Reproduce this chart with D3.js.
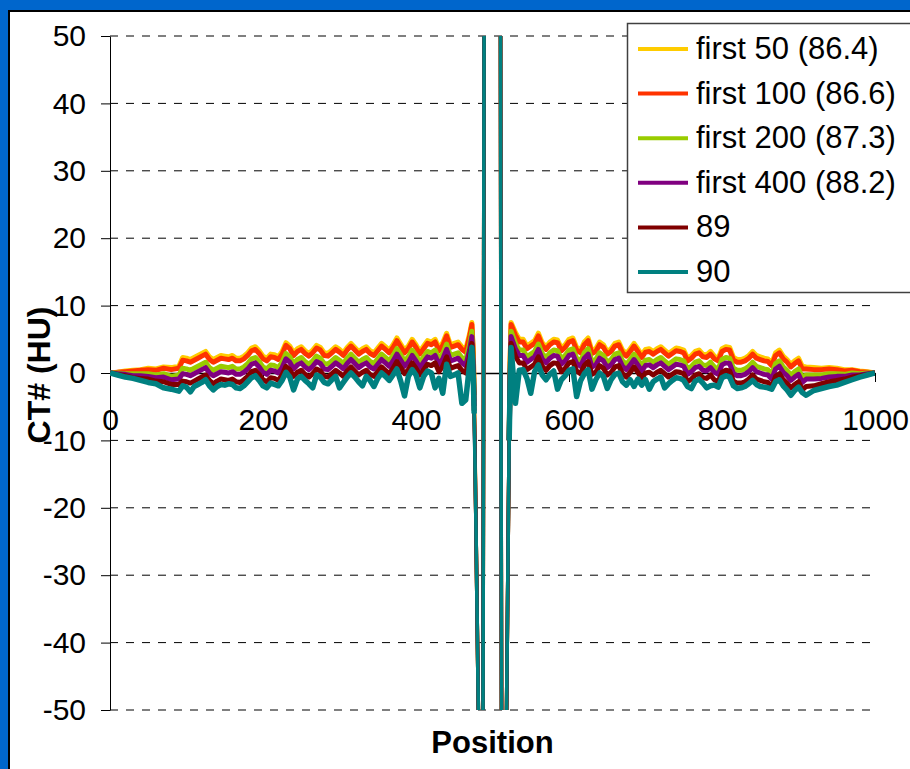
<!DOCTYPE html>
<html>
<head>
<meta charset="utf-8">
<script src="https://cdn.jsdelivr.net/npm/d3@7"></script>
<style>
  html, body { margin: 0; padding: 0; background: #0066cc; }
  svg { display: block; }
</style>
</head>
<body>
<svg id="chart" width="910" height="769"></svg>
<script>
// Profile positions (pixels along the line profile)
const position = [
  0,10,20,30,40,50,60,70,80,90,
  95,100,105,110,115,120,125,130,135,140,145,150,155,160,165,170,175,180,185,190,
  195,200,205,210,215,220,225,230,235,240,245,250,255,260,265,270,275,280,285,290,
  295,300,305,310,315,320,325,330,335,340,345,350,355,360,365,370,375,380,385,390,
  395,400,405,410,415,420,425,430,435,440,445,450,455,460,465,470,
  473,475,476,477,478.3,480,481.5,482.5,483.5,485,486.5,487.6,488.3,489,490,495,
  500,505,509.5,510.5,511,511.8,513,514.5,516,517.2,518.4,519.5,520.7,521.8,523,524.3,
  530,535,540,545,550,555,560,565,570,575,580,585,590,595,600,605,610,615,620,625,
  630,635,640,645,650,655,660,665,670,675,680,685,690,695,700,705,710,715,720,725,
  730,735,740,745,750,755,760,765,770,775,780,785,790,795,800,805,810,815,820,825,
  830,835,840,845,850,855,860,865,870,875,880,885,890,895,900,905,
  910,920,930,940,950,960,970,980,990,1000
];

// CT number (HU) along the profile for each averaging setting
const first50 = [
  0,0.1,0.3,0.4,0.5,0.7,0.6,0.9,0.8,1.0,
  2.3,2.2,2.0,2.3,2.6,2.9,3.2,2.4,2.0,2.3,2.6,2.5,2.4,2.6,2.2,2.2,2.5,3.0,3.7,3.9,
  3.3,2.5,2.2,2.8,2.7,2.4,3.2,4.5,4.0,3.0,3.6,3.9,3.3,2.9,3.4,4.1,3.8,3.0,2.9,3.4,
  3.9,3.5,3.0,3.8,4.4,3.8,3.2,3.6,3.9,3.3,3.0,3.7,4.4,3.9,3.4,4.2,5.2,4.3,3.4,4.0,
  5.0,4.2,3.2,4.0,4.8,4.6,5.0,3.7,4.5,5.9,4.2,4.4,4.6,3.9,3.5,5.8,
  7.5,3.0,-3.0,-10,-22,-37,-50,-62,-75,-90,-72,-50,0,50,90,130,
  140,130,90,50,0,-50,-70,-90,-75,-62,-50,-37,-22,-10,2.0,7.5,
  6.0,5.0,5.0,4.0,4.4,4.8,5.9,4.5,3.9,4.6,5.0,4.9,3.7,4.2,5.0,5.2,3.8,3.4,4.6,5.2,
  3.3,3.6,4.6,4.2,3.2,3.6,4.4,4.6,3.4,2.9,3.6,4.4,3.6,2.7,3.5,3.6,3.2,3.6,3.9,3.4,
  2.9,3.3,3.7,3.6,3.4,2.2,2.6,3.2,3.4,2.8,2.7,3.2,2.5,2.2,3.6,3.9,3.8,2.3,2.0,2.0,
  2.2,2.6,3.2,2.6,2.4,2.2,2.1,1.5,3.0,3.4,2.5,2.0,1.3,1.8,2.2,1.0,
  0.9,0.8,0.7,0.8,0.7,0.5,0.5,0.3,0.2,0
];

const first100 = [
  0,0.1,0.2,0.3,0.4,0.5,0.4,0.7,0.5,0.7,
  1.9,1.8,1.6,1.9,2.2,2.5,2.8,2.0,1.6,1.9,2.2,2.1,2.0,2.2,1.8,1.8,2.1,2.6,3.3,3.5,
  2.9,2.1,1.8,2.4,2.3,2.0,2.8,4.1,3.6,2.6,3.2,3.5,2.9,2.5,3.0,3.7,3.4,2.6,2.5,3.0,
  3.5,3.1,2.6,3.4,4.0,3.4,2.8,3.2,3.5,2.9,2.6,3.3,4.0,3.5,3.0,3.8,4.8,3.9,3.0,3.6,
  4.6,3.8,2.8,3.6,4.4,4.2,4.6,3.3,4.1,5.5,3.8,4.0,4.2,3.5,3.1,5.4,
  7.2,2.6,-3.3,-10.3,-22,-37,-50,-62,-75,-90,-72,-50,0,50,90,130,
  140,130,90,50,0,-50,-70,-90,-75,-62,-50,-37,-22,-10,1.6,7.2,
  5.6,4.6,4.6,3.6,4.0,4.4,5.5,4.1,3.5,4.2,4.6,4.5,3.3,3.8,4.6,4.8,3.4,3.0,4.2,4.8,
  2.9,3.2,4.2,3.8,2.8,3.2,4.0,4.2,3.0,2.5,3.2,4.0,3.2,2.3,3.1,3.2,2.8,3.2,3.5,3.0,
  2.5,2.9,3.3,3.2,3.0,1.8,2.2,2.8,3.0,2.4,2.3,2.8,2.1,1.8,3.2,3.5,3.4,1.9,1.6,1.6,
  1.8,2.2,2.8,2.2,2.0,1.8,1.7,1.1,2.6,3.0,2.1,1.6,0.9,1.4,1.8,0.6,
  0.6,0.5,0.5,0.6,0.5,0.3,0.4,0.2,0.1,0
];

const first200 = [
  0,0.0,-0.1,-0.1,-0.1,-0.1,-0.3,-0.1,-0.5,-0.3,
  0.7,0.6,0.4,0.7,1.0,1.3,1.6,0.8,0.4,0.7,1.0,0.9,0.8,1.0,0.6,0.6,0.9,1.4,2.1,2.3,
  1.7,0.9,0.6,1.2,1.1,0.8,1.6,2.9,2.4,1.4,2.0,2.3,1.7,1.3,1.8,2.5,2.2,1.4,1.3,1.8,
  2.3,1.9,1.4,2.2,2.8,2.2,1.6,2.0,2.3,1.7,1.4,2.1,2.8,2.3,1.8,2.6,3.6,2.7,1.8,2.4,
  3.4,2.6,1.6,2.4,3.2,3.0,3.4,2.1,2.9,4.3,2.6,2.8,3.0,2.3,1.9,4.2,
  6.2,1.4,-4.2,-10.8,-22,-37,-50,-62,-75,-90,-72,-50,0,50,90,130,
  140,130,90,50,0,-50,-70,-90,-75,-62,-50,-37,-22,-10,0.4,6.2,
  4.4,3.4,3.4,2.4,2.8,3.2,4.3,2.9,2.3,3.0,3.4,3.3,2.1,2.6,3.4,3.6,2.2,1.8,3.0,3.6,
  1.7,2.0,3.0,2.6,1.6,2.0,2.8,3.0,1.8,1.3,2.0,2.8,2.0,1.1,1.9,2.0,1.6,2.0,2.3,1.8,
  1.3,1.7,2.1,2.0,1.8,0.6,1.0,1.6,1.8,1.2,1.1,1.6,0.9,0.6,2.0,2.3,2.2,0.7,0.4,0.4,
  0.6,1.0,1.6,1.0,0.8,0.6,0.5,-0.1,1.4,1.8,0.9,0.4,-0.3,0.2,0.6,-0.6,
  -0.3,-0.3,-0.3,-0.1,-0.1,-0.2,0.0,-0.1,0.0,0
];

const first400 = [
  0,-0.1,-0.2,-0.4,-0.4,-0.5,-0.7,-0.6,-1.0,-0.9,
  -0.1,-0.2,-0.4,-0.1,0.2,0.5,0.8,0.0,-0.4,-0.1,0.2,0.1,0.0,0.2,-0.2,-0.2,0.1,0.6,1.3,1.5,
  0.9,0.1,-0.2,0.4,0.3,0.0,0.8,2.1,1.6,0.6,1.2,1.5,0.9,0.5,1.0,1.7,1.4,0.6,0.5,1.0,
  1.5,1.1,0.6,1.4,2.0,1.4,0.8,1.2,1.5,0.9,0.6,1.3,2.0,1.5,1.0,1.8,2.8,1.9,1.0,1.6,
  2.6,1.8,0.8,1.6,2.4,2.2,2.6,1.3,2.1,3.5,1.8,2.0,2.2,1.5,1.1,3.4,
  5.4,0.6,-4.9,-11.3,-22,-37,-50,-62,-75,-90,-72,-50,0,50,90,130,
  140,130,90,50,0,-50,-70,-90,-75,-62,-50,-37,-22,-10,-0.4,5.4,
  3.6,2.6,2.6,1.6,2.0,2.4,3.5,2.1,1.5,2.2,2.6,2.5,1.3,1.8,2.6,2.8,1.4,1.0,2.2,2.8,
  0.9,1.2,2.2,1.8,0.8,1.2,2.0,2.2,1.0,0.5,1.2,2.0,1.2,0.3,1.1,1.2,0.8,1.2,1.5,1.0,
  0.5,0.9,1.3,1.2,1.0,-0.2,0.2,0.8,1.0,0.4,0.3,0.8,0.1,-0.2,1.2,1.5,1.4,-0.1,-0.4,-0.4,
  -0.2,0.2,0.8,0.2,0.0,-0.2,-0.3,-0.9,0.6,1.0,0.1,-0.4,-1.1,-0.6,-0.2,-1.4,
  -0.9,-0.9,-0.8,-0.6,-0.5,-0.5,-0.3,-0.3,-0.1,0
];

const all89 = [
  0,-0.2,-0.4,-0.7,-0.8,-0.9,-1.2,-1.3,-1.7,-1.7,
  -1.2,-1.3,-1.5,-1.2,-0.9,-0.6,-0.3,-1.1,-1.6,-1.2,-0.9,-1.0,-1.1,-0.9,-1.3,-1.4,-1.0,-0.5,0.2,0.4,
  -0.2,-1.0,-1.3,-0.7,-0.8,-1.1,-0.3,1.0,0.5,-0.5,0.1,0.4,-0.2,-0.6,-0.1,0.6,0.3,-0.5,-0.6,-0.1,
  0.4,0.0,-0.5,0.3,0.9,0.3,-0.3,0.1,0.4,-0.2,-0.5,0.2,0.9,0.4,-0.1,0.7,1.7,0.8,-0.1,0.5,
  1.5,0.7,-0.3,0.5,1.3,1.1,1.5,0.2,1.0,2.4,0.7,0.9,1.1,0.4,0.0,2.3,
  4.4,-0.4,-5.6,-11.8,-22,-37,-50,-62,-75,-90,-72,-50,0,50,90,130,
  140,130,90,50,0,-50,-70,-90,-75,-62,-50,-37,-22,-10,-1.4,4.4,
  2.5,1.5,1.5,0.5,0.9,1.3,2.4,1.0,0.4,1.1,1.5,1.4,0.2,0.7,1.5,1.7,0.3,-0.1,1.1,1.7,
  -0.2,0.1,1.1,0.7,-0.3,0.1,0.9,1.1,-0.1,-0.6,0.1,0.9,0.1,-0.8,0.0,0.1,-0.3,0.1,0.4,-0.1,
  -0.6,-0.2,0.2,0.1,-0.1,-1.3,-0.9,-0.3,-0.1,-0.7,-0.8,-0.3,-1.0,-1.3,0.1,0.4,0.3,-1.2,-1.5,-1.5,
  -1.3,-0.9,-0.3,-0.9,-1.1,-1.3,-1.4,-2.0,-0.5,-0.1,-1.0,-1.5,-2.2,-1.7,-1.3,-2.5,
  -2.0,-1.9,-1.6,-1.3,-1.1,-0.9,-0.6,-0.4,-0.2,0
];

const all90 = [
  0,-0.3,-0.6,-0.8,-1.1,-1.4,-1.6,-2.2,-2.4,-2.7,
  -1.9,-2.1,-2.8,-2.0,-1.7,-1.4,-1.0,-1.9,-2.5,-2.0,-1.7,-1.8,-1.6,-1.7,-2.2,-2.3,-1.9,-1.3,-0.7,-0.4,
  -1.1,-1.9,-2.2,-1.5,-1.7,-1.9,-1.1,0.1,-0.6,-2.5,-0.9,-0.5,-1.1,-1.6,-2.2,-0.3,-0.6,-1.4,-1.6,-1.0,
  -0.5,-2.2,-1.4,-0.6,0.0,-0.6,-1.3,-1.9,-0.5,-1.1,-2.0,-0.8,0.0,-0.5,-1.1,-0.3,0.6,-1.2,-3.4,-0.5,
  0.5,-0.3,-2.2,-0.5,0.3,0.0,-2.2,-0.8,-3.0,1.3,-0.5,-0.3,0.0,-4.5,-4.0,1.2,
  3.8,-1.0,-6.0,-12.5,-22,-37,-50,-62,-75,-90,-72,-50,0,50,90,130,
  140,130,90,50,0,-50,-70,-90,-75,-62,-50,-37,-22,-10,-2.0,3.8,
  -4.5,0.4,0.5,-0.8,-3.0,0.2,1.2,-0.3,-1.0,-0.2,0.3,-2.4,-1.0,-0.4,0.4,0.6,-3.5,-1.2,-0.1,0.5,
  -2.4,-1.0,0.0,-0.5,-2.3,-1.0,-0.2,0.0,-1.3,-1.8,-1.0,-2.0,-0.9,-1.8,-1.0,-2.4,-1.3,-0.9,-0.6,-2.2,
  -1.6,-1.1,-0.7,-0.8,-1.1,-2.0,-2.3,-1.2,-0.9,-1.5,-2.2,-1.9,-1.8,-2.1,-0.7,-0.4,-0.6,-1.9,-2.3,-2.2,
  -2.0,-1.6,-1.1,-1.7,-2.0,-2.1,-2.2,-2.4,-1.3,-1.0,-1.9,-2.5,-3.3,-2.6,-2.1,-2.9,
  -3.3,-2.6,-2.3,-2.0,-1.8,-1.4,-1.0,-0.6,-0.3,0
];

const seriesNames = ["first 50 (86.4)", "first 100 (86.6)", "first 200 (87.3)", "first 400 (88.2)", "89", "90"];
const seriesValues = [first50, first100, first200, first400, all89, all90];
const seriesColors = ["#ffcc00", "#ff3300", "#99cc00", "#800080", "#800000", "#008080"];
const seriesWidths = [5, 5, 5, 5, 5, 5.5];
const xTicks = [0, 200, 400, 600, 800, 1000];
const yTicks = [-50, -40, -30, -20, -10, 0, 10, 20, 30, 40, 50];
// the insert edges, where the profile leaves the plotted range
const edgeLeft = 476, edgeRight = 521.8;

seriesValues.forEach((s, i) => {
  if (s.length !== position.length) {
    throw new Error("series " + seriesNames[i] + " has " + s.length + " values, expected " + position.length);
  }
});

const W = 910, H = 769;
const FONT = "'Liberation Sans', Arial, Helvetica, sans-serif";
const svg = d3.select("#chart");

// page background and chart frame
svg.append("rect").attr("width", W).attr("height", H).attr("fill", "#0066cc");
svg.append("rect")
  .attr("x", 9).attr("y", 11).attr("width", W + 40).attr("height", H + 40)
  .attr("fill", "#ffffff").attr("stroke", "#000000").attr("stroke-width", 2);

const x = d3.scaleLinear().domain([0, 1000]).range([110, 875]);
const y = d3.scaleLinear().domain([-50, 50]).range([710, 36]);
const plain = d => String(d);

// dashed horizontal gridlines
svg.append("g")
  .selectAll("line")
  .data(yTicks.filter(v => v !== 0))
  .join("line")
  .attr("x1", x(0)).attr("x2", x(1000))
  .attr("y1", d => y(d)).attr("y2", d => y(d))
  .attr("stroke", "#000").attr("stroke-width", 1)
  .attr("stroke-dasharray", "8,8");

// y axis
const yAxis = svg.append("g")
  .attr("transform", `translate(${x(0)},0)`)
  .call(d3.axisLeft(y).tickValues(yTicks).tickSize(9).tickSizeOuter(0).tickPadding(15).tickFormat(plain));
yAxis.select(".domain").attr("stroke", "#000").attr("stroke-width", 1);
yAxis.selectAll(".tick line").attr("stroke", "#000");
yAxis.selectAll(".tick text")
  .attr("font-family", FONT).attr("font-size", 30).attr("fill", "#000");

// x axis crossing at zero
const xAxis = svg.append("g")
  .attr("transform", `translate(0,${y(0)})`)
  .call(d3.axisBottom(x).tickValues(xTicks).tickSize(9).tickSizeOuter(0).tickPadding(27).tickFormat(plain));
xAxis.select(".domain").attr("stroke", "#000").attr("stroke-width", 1.5);
xAxis.selectAll(".tick line").attr("stroke", "#000");
xAxis.selectAll(".tick text")
  .attr("font-family", FONT).attr("font-size", 30).attr("fill", "#000");

// profile lines, clipped to the plot area
svg.append("clipPath").attr("id", "plot-clip")
  .append("rect")
  .attr("x", x(0)).attr("y", y(50))
  .attr("width", x(1000) - x(0)).attr("height", y(-50) - y(50));

// the noisy background part of each profile is drawn heavier than the steep insert edges
const bandLine = d3.line()
  .defined((d, i) => position[i] <= edgeLeft || position[i] >= edgeRight)
  .x((d, i) => x(position[i]))
  .y(d => y(d));
const edgeLine = d3.line()
  .defined((d, i) => position[i] >= 475 && position[i] <= 523)
  .x((d, i) => x(position[i]))
  .y(d => y(d));

const plot = svg.append("g").attr("clip-path", "url(#plot-clip)");
seriesValues.forEach((vals, i) => {
  const g = plot.append("g");
  g.append("path")
    .attr("d", bandLine(vals))
    .attr("fill", "none")
    .attr("stroke", seriesColors[i])
    .attr("stroke-width", seriesWidths[i])
    .attr("stroke-linejoin", "round");
  g.append("path")
    .attr("d", edgeLine(vals))
    .attr("fill", "none")
    .attr("stroke", seriesColors[i])
    .attr("stroke-width", 3.6)
    .attr("stroke-linejoin", "round");
});

// axis titles
svg.append("text")
  .attr("x", (x(0) + x(1000)) / 2).attr("y", 753)
  .attr("text-anchor", "middle")
  .attr("font-family", FONT).attr("font-size", 31).attr("font-weight", "bold")
  .text("Position");

svg.append("text")
  .attr("transform", "translate(50,375) rotate(-90)")
  .attr("text-anchor", "middle")
  .attr("font-family", FONT).attr("font-size", 32).attr("font-weight", "bold")
  .text("CT# (HU)");

// legend
const legend = svg.append("g");
legend.append("rect")
  .attr("x", 627.5).attr("y", 23.5).attr("width", 300).attr("height", 269)
  .attr("fill", "#ffffff").attr("stroke", "#404040").attr("stroke-width", 1.5);

const rowY = i => 49 + i * 44.6;
const items = legend.selectAll("g.item")
  .data(seriesNames)
  .join("g").attr("class", "item");
items.append("line")
  .attr("x1", 638).attr("x2", 688)
  .attr("y1", (d, i) => rowY(i)).attr("y2", (d, i) => rowY(i))
  .attr("stroke", (d, i) => seriesColors[i]).attr("stroke-width", 4);
items.append("text")
  .attr("x", 696).attr("y", (d, i) => rowY(i) + 10)
  .attr("font-family", FONT).attr("font-size", 31).attr("fill", "#000")
  .text(d => d);
</script>
</body>
</html>
